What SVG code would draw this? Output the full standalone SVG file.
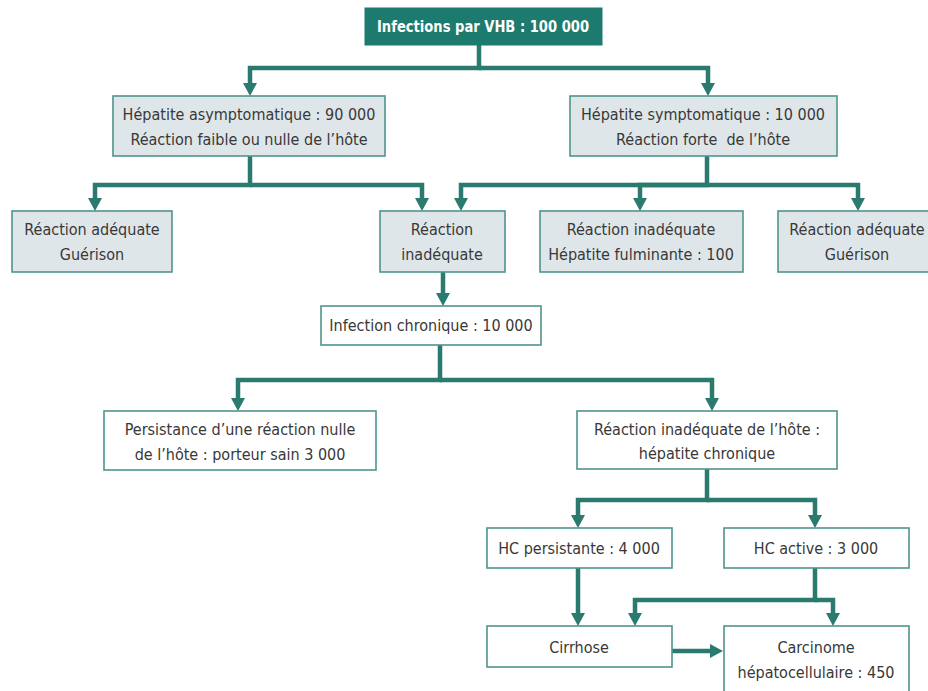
<svg xmlns="http://www.w3.org/2000/svg" width="928" height="691" viewBox="0 0 928 691">
<style>
.bg{fill:#ffffff}
.shade{fill:#dfe6e9;stroke:#4f958c;stroke-width:1.6}
.plain{fill:#ffffff;stroke:#4f958c;stroke-width:1.6}
.top{fill:#1d7a6e;stroke:#1d7a6e}
.t{font-family:"Liberation Sans Narrow","DejaVu Sans Condensed","Liberation Sans",sans-serif;font-size:16px;fill:#383838;text-anchor:middle}
.tw{font-family:"Liberation Sans Narrow","DejaVu Sans Condensed","Liberation Sans",sans-serif;font-size:15px;fill:#ffffff;font-weight:bold;text-anchor:middle}
.c{fill:none;stroke:#2a7a70;stroke-width:4.5;stroke-linejoin:miter}
</style>
<defs>
<marker id="ah" markerUnits="userSpaceOnUse" viewBox="0 0 13 14" markerWidth="13" markerHeight="14" refX="0" refY="7" orient="auto">
<path d="M0,0 L13,7 L0,14 z" fill="#2a7a70"/>
</marker>
</defs>
<rect class="bg" x="0" y="0" width="928" height="691"/>
<g id="connectors">
<path class="c" d="M479,45 V68 H250 V83" marker-end="url(#ah)"/>
<path class="c" d="M479,68 H708 V83" marker-end="url(#ah)"/>
<path class="c" d="M250,156 V185 H95 V198" marker-end="url(#ah)"/>
<path class="c" d="M250,185 H422 V198" marker-end="url(#ah)"/>
<path class="c" d="M707,156 V185 H461 V198" marker-end="url(#ah)"/>
<path class="c" d="M707,185 H640 V198" marker-end="url(#ah)"/>
<path class="c" d="M707,185 H858 V198" marker-end="url(#ah)"/>
<path class="c" d="M443,272 V293" marker-end="url(#ah)"/>
<path class="c" d="M440,345 V380 H238 V398" marker-end="url(#ah)"/>
<path class="c" d="M440,380 H712 V398" marker-end="url(#ah)"/>
<path class="c" d="M707,469 V500 H578 V515" marker-end="url(#ah)"/>
<path class="c" d="M707,500 H815 V515" marker-end="url(#ah)"/>
<path class="c" d="M578,568 V613" marker-end="url(#ah)"/>
<path class="c" d="M815,568 V600 H635 V613" marker-end="url(#ah)"/>
<path class="c" d="M815,600 H833 V613" marker-end="url(#ah)"/>
<path class="c" d="M672,651 H710" marker-end="url(#ah)"/>
</g>
<g id="n0"><rect class="top" x="365" y="8" width="237" height="37"/><text class="tw" x="483" y="32" textLength="212" lengthAdjust="spacingAndGlyphs">Infections par VHB : 100 000</text></g>
<g id="n1"><rect class="shade" x="113" y="96" width="272" height="60"/><text class="t" x="249" y="120">Hépatite asymptomatique : 90 000</text><text class="t" x="249" y="145">Réaction faible ou nulle de l’hôte</text></g>
<g id="n2"><rect class="shade" x="570" y="96" width="267" height="60"/><text class="t" x="703" y="120">Hépatite symptomatique : 10 000</text><text class="t" x="703" y="145" xml:space="preserve">Réaction forte  de l’hôte</text></g>
<g id="n3"><rect class="shade" x="12" y="211" width="160" height="61"/><text class="t" x="92" y="235">Réaction adéquate</text><text class="t" x="92" y="260">Guérison</text></g>
<g id="n4"><rect class="shade" x="380" y="211" width="125" height="61"/><text class="t" x="442" y="235">Réaction</text><text class="t" x="442" y="260">inadéquate</text></g>
<g id="n5"><rect class="shade" x="540" y="211" width="203" height="61"/><text class="t" x="641" y="235">Réaction inadéquate</text><text class="t" x="641" y="260">Hépatite fulminante : 100</text></g>
<g id="n6"><rect class="shade" x="778" y="211" width="160" height="61"/><text class="t" x="857" y="235">Réaction adéquate</text><text class="t" x="857" y="260">Guérison</text></g>
<g id="n7"><rect class="plain" x="321" y="306" width="220" height="39"/><text class="t" x="431" y="331">Infection chronique : 10 000</text></g>
<g id="n8"><rect class="plain" x="104" y="411" width="272" height="59"/><text class="t" x="240" y="435">Persistance d’une réaction nulle</text><text class="t" x="240" y="460">de l’hôte : porteur sain 3 000</text></g>
<g id="n9"><rect class="plain" x="577" y="411" width="260" height="58"/><text class="t" x="707" y="435">Réaction inadéquate de l’hôte :</text><text class="t" x="707" y="459">hépatite chronique</text></g>
<g id="n10"><rect class="plain" x="487" y="528" width="185" height="40"/><text class="t" x="579" y="554">HC persistante : 4 000</text></g>
<g id="n11"><rect class="plain" x="724" y="528" width="185" height="40"/><text class="t" x="816" y="554">HC active : 3 000</text></g>
<g id="n12"><rect class="plain" x="487" y="626" width="185" height="41"/><text class="t" x="579" y="653">Cirrhose</text></g>
<g id="n13"><rect class="plain" x="724" y="626" width="185" height="70"/><text class="t" x="816" y="653">Carcinome</text><text class="t" x="816" y="678">hépatocellulaire : 450</text></g>
</svg>
